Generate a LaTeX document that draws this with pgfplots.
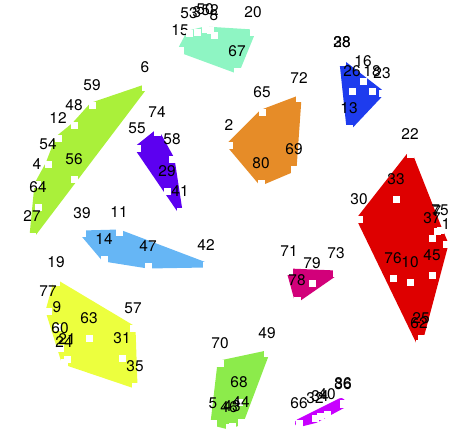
\documentclass[border=0pt]{standalone}
\usepackage{pgfplots}
\pgfplotsset{compat=1.18}
\usepackage{pgfplotstable}
\usepackage{fontspec}
\setmainfont{TeX Gyre Heros}
\definecolor{cA}{RGB}{170,240,58}
\definecolor{cMint}{RGB}{142,245,195}
\definecolor{cBlue}{RGB}{30,60,238}
\definecolor{cOrange}{RGB}{230,140,40}
\definecolor{cPurple}{RGB}{92,0,240}
\definecolor{cLBlue}{RGB}{102,182,245}
\definecolor{cYellow}{RGB}{236,255,62}
\definecolor{cMag}{RGB}{210,0,122}
\definecolor{cRed}{RGB}{222,0,0}
\definecolor{cGreen}{RGB}{140,235,75}
\definecolor{cViolet}{RGB}{200,0,255}
\pgfplotstableread{
x y label
145 87 6
92 105 59
74 125 48
58 138 12
48 164 54
37 184 4
74 179 56
38 207 64
32 236 27
180 50 15
189 33 53
197 32 3
205 29 50
210 30 52
214 35 8
253 32 20
237 71 67
342 62 28
342 62 38
363 81 16
352 91 26
372 91 18
382 93 23
349 128 13
299 98 72
262 112 65
229 145 2
261 183 80
294 169 69
157 132 74
137 148 55
172 159 58
167 191 29
180 211 41
82 233 39
119 232 11
104 259 14
148 266 47
206 265 42
56 282 19
48 311 77
57 327 9
60 348 60
64 362 24
67 359 21
89 338 63
133 328 57
122 358 31
135 386 35
289 271 71
312 283 79
336 273 73
297 300 78
410 154 22
396 199 33
359 219 30
440 230 75
437 231 7
432 238 37
446 244 1
393 278 76
410 282 10
432 275 45
421 338 25
419 343 62
220 363 70
267 353 49
239 402 68
213 423 5
229 427 46
232 426 43
241 422 44
299 423 66
315 418 32
320 416 34
327 414 40
343 404 36
343 403 86
}\pts
\begin{document}
\begin{tikzpicture}
\begin{axis}[
  width=469bp, height=444bp, scale only axis,
  xmin=0, xmax=469, ymin=0, ymax=444, y dir=reverse,
  hide axis, clip=false,
  hull/.style={fill=#1, draw=#1, line width=5bp, line join=round, mark=none},
]
\path[draw=none] (axis cs:0,0) rectangle (axis cs:469,444);
\addplot[hull=cA] coordinates {(145,87) (92,105) (74,125) (58,138) (48,164) (37,184) (32,236) (145,87)};
\addplot[hull=cMint] coordinates {(180,50) (189,33) (205,29) (253,32) (237,71) (180,50)};
\addplot[hull=cBlue] coordinates {(342,62) (382,93) (349,128) (342,62)};
\addplot[hull=cOrange] coordinates {(299,98) (262,112) (229,145) (261,183) (294,169) (299,98)};
\addplot[hull=cPurple] coordinates {(157,132) (172,159) (180,211) (137,148) (157,132)};
\addplot[hull=cLBlue] coordinates {(82,233) (119,232) (206,265) (148,266) (104,259) (82,233)};
\addplot[hull=cYellow] coordinates {(56,282) (133,328) (135,386) (64,362) (48,311) (56,282)};
\addplot[hull=cMag] coordinates {(289,271) (336,273) (297,300) (289,271)};
\addplot[hull=cRed] coordinates {(410,154) (440,230) (446,244) (421,338) (419,343) (359,219) (410,154)};
\addplot[hull=cGreen] coordinates {(220,363) (267,353) (241,422) (229,427) (213,423) (220,363)};
\addplot[fill=cViolet, draw=cViolet, line width=8bp, line join=round, line cap=round, mark=none] coordinates {(299,423) (315,419) (343,404) (341,402) (299,423)};
\addplot[only marks, mark=square*, mark size=3.1bp, mark options={fill=white, draw=white, line width=0.2bp},
  nodes near coords, point meta=explicit symbolic,
  every node near coord/.style={anchor=center, yshift=20bp, inner sep=0pt, text=black, font=\fontsize{15.5}{16}\selectfont}]
  table[x=x, y=y, meta=label] {\pts};
\end{axis}
\end{tikzpicture}
\end{document}
